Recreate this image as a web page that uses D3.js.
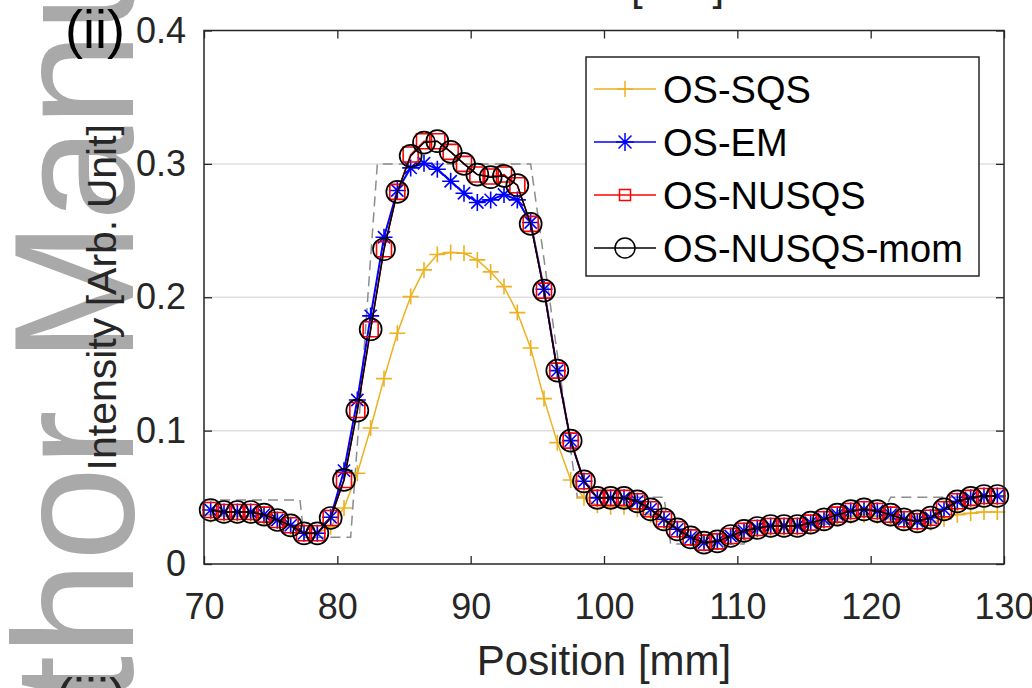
<!DOCTYPE html>
<html>
<head>
<meta charset="utf-8">
<script src="https://cdn.jsdelivr.net/npm/d3@7"></script>
<style>
	body { margin: 0; background: #fff; }
	svg { display: block; }
	text { font-family: "Liberation Sans", Arial, sans-serif; fill: #262626; }
</style>
</head>
<body>
<svg width="1032" height="688"></svg>
<script>

	// sample positions [mm], one every mm
	var positions = [70.5, 71.5, 72.5, 73.5, 74.5, 75.5, 76.5, 77.5, 78.5, 79.5,
		80.5, 81.5, 82.5, 83.5, 84.5, 85.5, 86.5, 87.5, 88.5, 89.5,
		90.5, 91.5, 92.5, 93.5, 94.5, 95.5, 96.5, 97.5, 98.5, 99.5,
		100.5, 101.5, 102.5, 103.5, 104.5, 105.5, 106.5, 107.5, 108.5, 109.5,
		110.5, 111.5, 112.5, 113.5, 114.5, 115.5, 116.5, 117.5, 118.5, 119.5,
		120.5, 121.5, 122.5, 123.5, 124.5, 125.5, 126.5, 127.5, 128.5, 129.5];

	var os_sqs = [0.037, 0.036, 0.036, 0.036, 0.035, 0.032, 0.028, 0.024, 0.023, 0.028,
		0.042, 0.068, 0.102, 0.139, 0.173, 0.2005, 0.2205, 0.232, 0.2335, 0.233,
		0.228, 0.219, 0.208, 0.1885, 0.162, 0.124, 0.091, 0.063, 0.0496, 0.044,
		0.043, 0.043, 0.041, 0.037, 0.032, 0.026, 0.020, 0.017, 0.017, 0.020,
		0.023, 0.025, 0.026, 0.026, 0.027, 0.029, 0.031, 0.034, 0.036, 0.037,
		0.036, 0.034, 0.031, 0.030, 0.031, 0.034, 0.037, 0.038, 0.039, 0.039];

	var os_em = [0.0405, 0.039, 0.039, 0.039, 0.037, 0.033, 0.029, 0.023, 0.023, 0.035,
		0.070, 0.123, 0.186, 0.245, 0.280, 0.297, 0.3005, 0.296, 0.287, 0.278,
		0.271, 0.273, 0.277, 0.273, 0.256, 0.206, 0.145, 0.0925, 0.062, 0.0496,
		0.0496, 0.0496, 0.047, 0.041, 0.0335, 0.026, 0.020, 0.016, 0.017, 0.021,
		0.0248, 0.027, 0.0285, 0.0285, 0.0285, 0.031, 0.0335, 0.037, 0.0397, 0.041,
		0.0397, 0.037, 0.0335, 0.032, 0.0347, 0.041, 0.047, 0.0496, 0.051, 0.051];

	var os_nusqs = [0.0405, 0.039, 0.039, 0.039, 0.037, 0.033, 0.029, 0.023, 0.023, 0.0345,
		0.063, 0.1155, 0.176, 0.236, 0.279, 0.307, 0.317, 0.317, 0.309, 0.300,
		0.292, 0.2905, 0.292, 0.284, 0.255, 0.205, 0.145, 0.0925, 0.062, 0.0496,
		0.0496, 0.0496, 0.047, 0.041, 0.0335, 0.026, 0.020, 0.016, 0.017, 0.021,
		0.0248, 0.027, 0.0285, 0.0285, 0.0285, 0.031, 0.0335, 0.037, 0.0397, 0.041,
		0.0397, 0.037, 0.0335, 0.032, 0.0347, 0.041, 0.047, 0.0496, 0.051, 0.051];

	var os_nusqs_mom = [0.0405, 0.039, 0.039, 0.039, 0.037, 0.033, 0.029, 0.023, 0.023, 0.0345,
		0.063, 0.115, 0.176, 0.236, 0.279, 0.306, 0.316, 0.317, 0.309, 0.300,
		0.292, 0.290, 0.291, 0.284, 0.255, 0.205, 0.145, 0.0925, 0.062, 0.0496,
		0.0496, 0.0496, 0.047, 0.041, 0.0335, 0.026, 0.020, 0.016, 0.017, 0.021,
		0.0248, 0.027, 0.0285, 0.0285, 0.0285, 0.031, 0.0335, 0.037, 0.0397, 0.041,
		0.0397, 0.037, 0.0335, 0.032, 0.0347, 0.041, 0.047, 0.0496, 0.051, 0.051];

	// true phantom profile (dashed gray)
	var truth_x = [70, 77.2, 77.5, 81, 83, 94.5, 98, 104.5, 105, 110.5, 111, 117, 117.5, 121, 121.5, 130];
	var truth_y = [0.048, 0.048, 0.02, 0.02, 0.3, 0.3, 0.05, 0.05, 0.015, 0.015, 0.03, 0.03, 0.04, 0.04, 0.05, 0.05];

	var x_ticks = [70, 80, 90, 100, 110, 120, 130];
	var y_ticks = [0, 0.1, 0.2, 0.3, 0.4];
	var y_tick_labels = ["0", "0.1", "0.2", "0.3", "0.4"];

	var series_names = ["OS-SQS", "OS-EM", "OS-NUSQS", "OS-NUSQS-mom"];
	var series_colors = ["#EDB120", "#0000FF", "#FF0000", "#000000"];
	var series_markers = ["plus", "star", "square", "circle"];
	var series_values = [os_sqs, os_em, os_nusqs, os_nusqs_mom];

	(function(){

		var svg = d3.select("svg");
		var p_left = 204, p_right = 1004, p_top = 30.5, p_bottom = 564;

		var x = d3.scaleLinear().domain([70, 130]).range([p_left, p_right]);
		var y = d3.scaleLinear().domain([0, 0.4]).range([p_bottom, p_top]);

		// watermark behind everything
		svg.append("text")
			.attr("transform", "translate(133,911) rotate(-90)")
			.style("font-size", "170px")
			.style("fill", "#a9a9a9")
			.text("Author Manuscript");

		// bits of the neighbouring panels that got cropped in
		svg.append("text")
			.attr("x", 597).attr("y", 0)
			.attr("text-anchor", "middle")
			.style("font-size", "42px")
			.text("Position [mm]");
		svg.append("text")
			.attr("x", 55).attr("y", 716)
			.style("font-size", "54px")
			.text("(iii)");

		// grid
		svg.append("g").selectAll("line")
			.data([0.1, 0.2, 0.3])
			.enter().append("line")
			.attr("x1", p_left).attr("x2", p_right)
			.attr("y1", function(d){ return y(d); })
			.attr("y2", function(d){ return y(d); })
			.attr("stroke", "#dfdfdf").attr("stroke-width", 1.5);

		// axes, MATLAB style ticks pointing in
		var xAxis = svg.append("g").attr("transform", "translate(0," + p_bottom + ")")
			.call(d3.axisBottom(x).tickValues(x_ticks).tickSizeInner(-8).tickSizeOuter(0).tickPadding(29));
		var xAxisTop = svg.append("g").attr("transform", "translate(0," + p_top + ")")
			.call(d3.axisTop(x).tickValues(x_ticks).tickSizeInner(-8).tickSizeOuter(0).tickFormat(""));
		var yAxis = svg.append("g").attr("transform", "translate(" + p_left + ",0)")
			.call(d3.axisLeft(y).tickValues(y_ticks).tickSizeInner(-8).tickSizeOuter(0).tickPadding(18)
				.tickFormat(function(d, i){ return y_tick_labels[i]; }));
		var yAxisRight = svg.append("g").attr("transform", "translate(" + p_right + ",0)")
			.call(d3.axisRight(y).tickValues(y_ticks).tickSizeInner(-8).tickSizeOuter(0).tickFormat(""));

		[xAxis, xAxisTop, yAxis, yAxisRight].forEach(function(g){
			g.select(".domain").remove();
			g.attr("font-family", null).attr("font-size", null);
			g.selectAll(".tick line").attr("stroke", "#262626").attr("stroke-width", 1.3);
			g.selectAll(".tick text").style("font-size", "36px").attr("fill", "#262626");
		});

		// dashed truth
		var truth_line = d3.line()
			.x(function(d, i){ return x(truth_x[i]); })
			.y(function(d){ return y(d); });
		svg.append("path")
			.attr("d", truth_line(truth_y))
			.attr("fill", "none")
			.attr("stroke", "#8c8c8c")
			.attr("stroke-width", 1.5)
			.attr("stroke-dasharray", "10,6");

		function marker_path(type, s){
			// s is half size
			if(type == "plus"){
				return "M" + (-s) + ",0H" + s + "M0," + (-s) + "V" + s;
			}
			if(type == "star"){
				var d = s * 0.72;
				return "M" + (-s) + ",0H" + s + "M0," + (-s) + "V" + s +
					"M" + (-d) + "," + (-d) + "L" + d + "," + d +
					"M" + (-d) + "," + d + "L" + d + "," + (-d);
			}
			if(type == "square"){
				return "M" + (-s) + "," + (-s) + "H" + s + "V" + s + "H" + (-s) + "Z";
			}
			return d3.arc()({innerRadius: 0, outerRadius: s, startAngle: 0, endAngle: 2 * Math.PI});
		}

		var marker_size = {"plus": 8, "star": 8.5, "square": 7.5, "circle": 11};
		var line_width = [1.5, 2, 1.5, 1.5];

		var line = d3.line()
			.x(function(d, i){ return x(positions[i]); })
			.y(function(d){ return y(d); });

		series_values.forEach(function(values, k){
			var g = svg.append("g");
			g.append("path")
				.attr("d", line(values))
				.attr("fill", "none")
				.attr("stroke", series_colors[k])
				.attr("stroke-width", line_width[k]);
			g.selectAll("path.mk")
				.data(values)
				.enter().append("path")
				.attr("class", "mk")
				.attr("transform", function(d, i){ return "translate(" + x(positions[i]) + "," + y(d) + ")"; })
				.attr("d", marker_path(series_markers[k], marker_size[series_markers[k]]))
				.attr("fill", "none")
				.attr("stroke", series_colors[k])
				.attr("stroke-width", k == 3 ? 1.7 : 1.6);
		});

		// box
		svg.append("rect")
			.attr("x", p_left).attr("y", p_top)
			.attr("width", p_right - p_left).attr("height", p_bottom - p_top)
			.attr("fill", "none").attr("stroke", "#262626").attr("stroke-width", 1.5);

		// axis labels
		svg.append("text")
			.attr("x", (p_left + p_right) / 2).attr("y", 675)
			.attr("text-anchor", "middle")
			.style("font-size", "42px")
			.text("Position [mm]");
		svg.append("text")
			.attr("transform", "translate(116," + ((p_top + p_bottom) / 2) + ") rotate(-90)")
			.attr("text-anchor", "middle")
			.style("font-size", "41px")
			.text("Intensity [Arb. Unit]");

		svg.append("text")
			.attr("x", 65).attr("y", 48)
			.style("font-size", "54px")
			.style("fill", "#000")
			.text("(ii)");

		// legend
		var legend = svg.append("g");
		legend.append("rect")
			.attr("x", 586).attr("y", 57)
			.attr("width", 393).attr("height", 219)
			.attr("fill", "#fff").attr("stroke", "#262626").attr("stroke-width", 1.5);

		var legend_size = {"plus": 8, "star": 9, "square": 5.5, "circle": 10};
		series_names.forEach(function(name, k){
			var cy = 89 + k * 53;
			legend.append("line")
				.attr("x1", 594).attr("x2", 656)
				.attr("y1", cy).attr("y2", cy)
				.attr("stroke", series_colors[k]).attr("stroke-width", 1.5);
			legend.append("path")
				.attr("transform", "translate(625," + cy + ")")
				.attr("d", marker_path(series_markers[k], legend_size[series_markers[k]]))
				.attr("fill", "none")
				.attr("stroke", series_colors[k])
				.attr("stroke-width", 1.5);
			legend.append("text")
				.attr("x", 663).attr("y", cy + 14)
				.style("font-size", "38px")
				.style("fill", "#000")
				.text(name);
		});

	})();

</script>
</body>
</html>
